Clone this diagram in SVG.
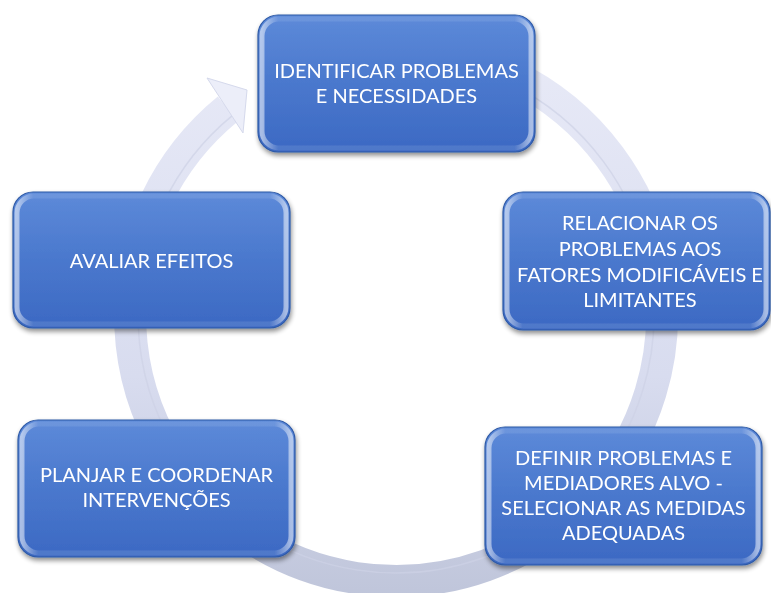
<svg xmlns="http://www.w3.org/2000/svg" width="771" height="593" viewBox="0 0 771 593">
  <defs>
    <linearGradient id="boxFill" x1="0" y1="0" x2="0" y2="1">
      <stop offset="0" stop-color="#5d8ad9"/>
      <stop offset="0.5" stop-color="#4a78cd"/>
      <stop offset="1" stop-color="#3c69c3"/>
    </linearGradient>
    <linearGradient id="bevel" x1="0" y1="0" x2="1" y2="0">
      <stop offset="0" stop-color="#ffffff" stop-opacity="0.55"/>
      <stop offset="0.06" stop-color="#ffffff" stop-opacity="0.1"/>
      <stop offset="0.94" stop-color="#ffffff" stop-opacity="0.1"/>
      <stop offset="1" stop-color="#ffffff" stop-opacity="0.55"/>
    </linearGradient>
    <linearGradient id="ringFill" gradientUnits="userSpaceOnUse" x1="0" y1="40" x2="0" y2="600">
      <stop offset="0" stop-color="#e8eaf7"/>
      <stop offset="0.6" stop-color="#d8dcef"/>
      <stop offset="1" stop-color="#bfc5da"/>
    </linearGradient>
    <filter id="shadow" x="-10%" y="-10%" width="120%" height="130%">
      <feGaussianBlur in="SourceAlpha" stdDeviation="2.5"/>
      <feOffset dx="1" dy="3" result="b"/>
      <feComponentTransfer><feFuncA type="linear" slope="0.45"/></feComponentTransfer>
      <feMerge><feMergeNode/><feMergeNode in="SourceGraphic"/></feMerge>
    </filter>
    <style>
      .box { fill: url(#boxFill); stroke: #2f5aa6; stroke-width: 1.2; }
      .gloss { fill: none; stroke: url(#bevel); stroke-width: 5; }
      .lbl { fill: #ffffff; font-family: Lato, "Open Sans", "Liberation Sans", sans-serif; font-size: 20px; text-anchor: middle; }
    </style>
  </defs>

  <g id="connectors">
    <path d="M 396 49 A 266 266 0 1 1 227.9 108.9" fill="none" stroke="url(#ringFill)" stroke-width="32"/>
    <path d="M 396 57 A 258 258 0 1 1 232.9 115.1" fill="none" stroke="#cdd1e6" stroke-width="1.5" opacity="0.7"/>
    <polygon points="207,78 247,90 243,133" fill="#eceef9" stroke="#d5d9ec" stroke-width="1"/>
  </g>

  <g id="node1" filter="url(#shadow)">
    <rect class="box" x="258" y="15" width="277" height="137" rx="20"/>
    <rect class="gloss" x="262" y="19" width="269" height="129" rx="17"/>
    <text class="lbl" x="396.5" y="78">IDENTIFICAR PROBLEMAS</text>
    <text class="lbl" x="396.5" y="103">E NECESSIDADES</text>
  </g>

  <g id="node2" filter="url(#shadow)">
    <rect class="box" x="503" y="192" width="267" height="138" rx="20"/>
    <rect class="gloss" x="507" y="196" width="259" height="130" rx="17"/>
    <text class="lbl" x="640" y="230">RELACIONAR OS</text>
    <text class="lbl" x="640" y="256">PROBLEMAS AOS</text>
    <text class="lbl" x="640" y="282">FATORES MODIFICÁVEIS E</text>
    <text class="lbl" x="640" y="307">LIMITANTES</text>
  </g>

  <g id="node3" filter="url(#shadow)">
    <rect class="box" x="485" y="427" width="277" height="138" rx="20"/>
    <rect class="gloss" x="489" y="431" width="269" height="130" rx="17"/>
    <text class="lbl" x="623.5" y="465">DEFINIR PROBLEMAS E</text>
    <text class="lbl" x="623.5" y="490">MEDIADORES ALVO -</text>
    <text class="lbl" x="623.5" y="515">SELECIONAR AS MEDIDAS</text>
    <text class="lbl" x="623.5" y="540">ADEQUADAS</text>
  </g>

  <g id="node4" filter="url(#shadow)">
    <rect class="box" x="13" y="192" width="277" height="136" rx="20"/>
    <rect class="gloss" x="17" y="196" width="269" height="128" rx="17"/>
    <text class="lbl" x="151.5" y="268">AVALIAR EFEITOS</text>
  </g>

  <g id="node5" filter="url(#shadow)">
    <rect class="box" x="18" y="420" width="277" height="137" rx="20"/>
    <rect class="gloss" x="22" y="424" width="269" height="129" rx="17"/>
    <text class="lbl" x="156.5" y="482">PLANJAR E COORDENAR</text>
    <text class="lbl" x="156.5" y="507">INTERVENÇÕES</text>
  </g>
</svg>
